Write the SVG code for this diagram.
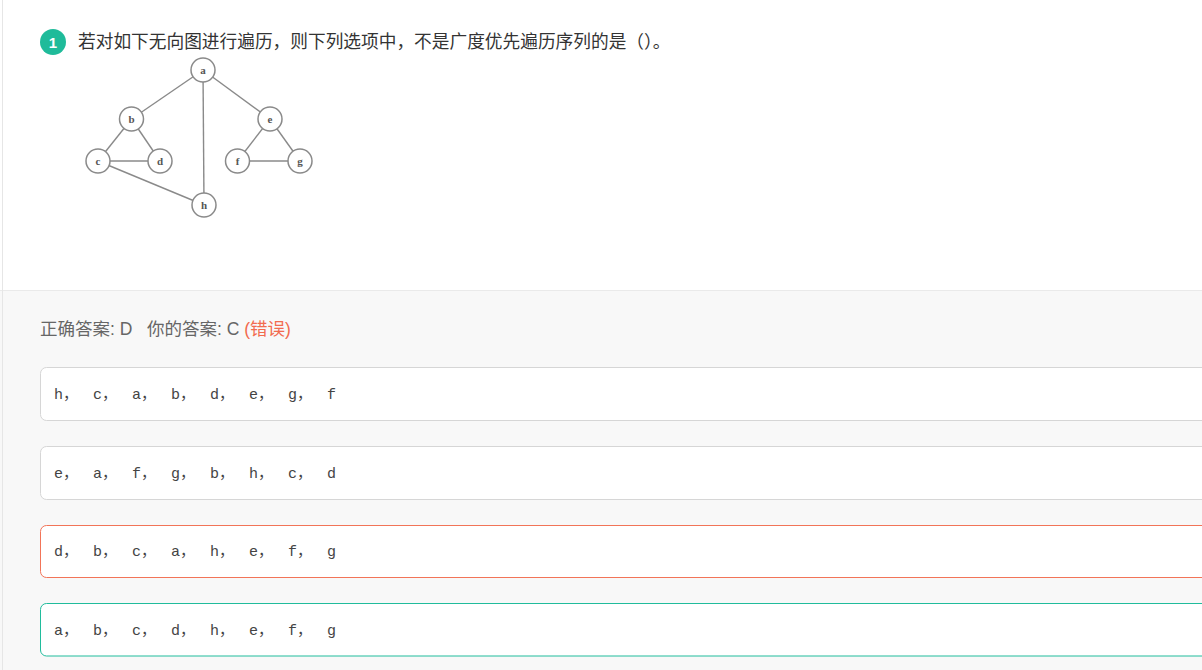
<svg xmlns="http://www.w3.org/2000/svg" width="1202" height="670" viewBox="0 0 1202 670">
<style>
.node circle{fill:#fff;stroke:#8a8a8a;stroke-width:1.5}
.node text{font-family:"Liberation Serif",serif;font-size:11px;font-weight:bold;fill:#555;text-anchor:middle}
.edge{stroke:#8a8a8a;stroke-width:1.4;fill:none}
.opt rect{fill:#fff;stroke-width:1}
.opt text{font-family:"Liberation Mono","Noto Sans CJK SC",monospace;font-size:15px;fill:#444}
</style>
<rect x="0" y="0" width="1202" height="670" fill="#fff"/>
<rect x="0" y="290" width="1202" height="380" fill="#f8f8f8"/>
<line x1="0" y1="290.5" x2="1202" y2="290.5" stroke="#eaeaea"/>
<line x1="2.5" y1="0" x2="2.5" y2="670" stroke="#e6e6e6"/>
<g id="title">
<circle cx="53" cy="42" r="13" fill="#1fbb9a"/>
<text x="53" y="48" font-family="Liberation Sans,Arial,sans-serif" font-size="15" font-weight="bold" fill="#fff" text-anchor="middle">1</text>
<text x="78" y="48" font-family="Liberation Sans,'Noto Sans CJK SC',sans-serif" font-size="17.7" fill="#333">若对如下无向图进行遍历，则下列选项中，不是广度优先遍历序列的是（）。</text>
</g>
<g id="connectors">
<line class="edge" x1="203" y1="70" x2="131.5" y2="119"/>
<line class="edge" x1="203" y1="70" x2="204" y2="205"/>
<line class="edge" x1="203" y1="70" x2="270" y2="119"/>
<line class="edge" x1="131.5" y1="119" x2="98" y2="161"/>
<line class="edge" x1="131.5" y1="119" x2="160" y2="161"/>
<line class="edge" x1="98" y1="161" x2="160" y2="161"/>
<line class="edge" x1="98" y1="161" x2="204" y2="205"/>
<line class="edge" x1="270" y1="119" x2="237.5" y2="161"/>
<line class="edge" x1="270" y1="119" x2="300" y2="161"/>
<line class="edge" x1="237.5" y1="161" x2="300" y2="161"/>
</g>
<g id="node-a" class="node"><circle cx="203" cy="70" r="12"/><text x="203" y="74">a</text></g>
<g id="node-b" class="node"><circle cx="131.5" cy="119" r="12"/><text x="131.5" y="123">b</text></g>
<g id="node-c" class="node"><circle cx="98" cy="161" r="12"/><text x="98" y="165">c</text></g>
<g id="node-d" class="node"><circle cx="160" cy="161" r="12"/><text x="160" y="165">d</text></g>
<g id="node-e" class="node"><circle cx="270" cy="119" r="12"/><text x="270" y="123">e</text></g>
<g id="node-f" class="node"><circle cx="237.5" cy="161" r="12"/><text x="237.5" y="165">f</text></g>
<g id="node-g" class="node"><circle cx="300" cy="161" r="12"/><text x="300" y="165">g</text></g>
<g id="node-h" class="node"><circle cx="204" cy="205" r="12"/><text x="204" y="209">h</text></g>
<g id="answer">
<text x="40" y="335" font-family="Liberation Sans,'Noto Sans CJK SC',sans-serif" font-size="17.5" fill="#666">正确答案: D<tspan x="147">你的答案: C </tspan><tspan fill="#f26b4f">(错误)</tspan></text>
</g>
<g id="option-a" class="opt"><rect x="40.5" y="367.5" width="1180" height="53" rx="6" stroke="#d6d6d6"/>
<text y="399"><tspan x="54">h，</tspan><tspan x="93">c，</tspan><tspan x="132">a，</tspan><tspan x="171">b，</tspan><tspan x="210">d，</tspan><tspan x="249">e，</tspan><tspan x="288">g，</tspan><tspan x="327">f</tspan></text></g>
<g id="option-b" class="opt"><rect x="40.5" y="446.5" width="1180" height="53" rx="6" stroke="#d6d6d6"/>
<text y="478"><tspan x="54">e，</tspan><tspan x="93">a，</tspan><tspan x="132">f，</tspan><tspan x="171">g，</tspan><tspan x="210">b，</tspan><tspan x="249">h，</tspan><tspan x="288">c，</tspan><tspan x="327">d</tspan></text></g>
<g id="option-c" class="opt"><rect x="40.5" y="525.5" width="1180" height="52" rx="6" stroke="#f27458"/>
<text y="556"><tspan x="54">d，</tspan><tspan x="93">b，</tspan><tspan x="132">c，</tspan><tspan x="171">a，</tspan><tspan x="210">h，</tspan><tspan x="249">e，</tspan><tspan x="288">f，</tspan><tspan x="327">g</tspan></text></g>
<g id="option-d" class="opt"><rect x="40.5" y="603.5" width="1180" height="52.5" rx="6" stroke="#20bc9c"/>
<text y="635"><tspan x="54">a，</tspan><tspan x="93">b，</tspan><tspan x="132">c，</tspan><tspan x="171">d，</tspan><tspan x="210">h，</tspan><tspan x="249">e，</tspan><tspan x="288">f，</tspan><tspan x="327">g</tspan></text></g>
</svg>
